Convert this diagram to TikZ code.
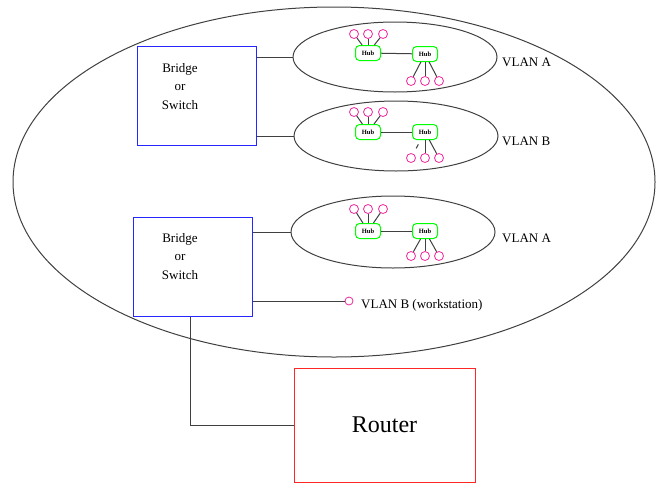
\documentclass[tikz,border=0pt]{standalone}
\usepackage{fontspec}
\setmainfont{Liberation Serif}
\usetikzlibrary{shapes.geometric,positioning}

\tikzset{
  wire/.style={draw=black!75, line width=1pt},
  bridgebox/.style={draw=blue!85, line width=1pt, minimum width=119, minimum height=99, inner sep=0},
  routerbox/.style={draw=red!85, line width=1pt, minimum width=181, minimum height=114, inner sep=0, font=\fontsize{24}{28}\selectfont},
  vlanell/.style={ellipse, draw=black!75, line width=1pt, minimum width=204, minimum height=70, inner sep=0},
  hub/.style={draw=green, line width=1pt, rounded corners=4, minimum width=25, minimum height=15, inner sep=0, font=\fontsize{6.5}{7}\selectfont\bfseries},
  host/.style={circle, draw=magenta!85, line width=0.8pt, minimum size=9, inner sep=0},
  lbl/.style={anchor=west, inner sep=0, font=\fontsize{13}{15}\selectfont},
  swlbl/.style={align=center, inner sep=0, font=\fontsize{13}{18.5}\selectfont}
}

\begin{document}
\begin{tikzpicture}[x=1pt,y=-1pt]
\useasboundingbox (0,0) rectangle (660,482);

% whole campus
\node[ellipse, draw=black!75, line width=1pt, minimum width=642, minimum height=350, inner sep=0] (lan) at (334,182) {};

% bridges
\node[bridgebox] (sw1) at (197,96) {};
\node[swlbl] (sw1txt) at (180,86.5) {Bridge\\or\\Switch};
\node[bridgebox] (sw2) at (192.5,266.5) {};
\node[swlbl] (sw2txt) at (180,256.5) {Bridge\\or\\Switch};

% router
\node[routerbox] (router) at (384.5,425) {Router};

% VLAN A (top)
\node[vlanell] (va1) at (395,57) {};
\node[hub] (va1h1) at (368,53) {Hub};
\node[hub] (va1h2) at (425,54) {Hub};
\draw[wire] (va1h1) -- (va1h2);
\foreach \dx [count=\i] in {-14,0,15} {
  \node[host] (va1t\i) at ([shift={(\dx,-19)}]va1h1) {};
  \draw[wire] (va1h1) -- (va1t\i);
}
\foreach \dx [count=\i] in {-14,0,14} {
  \node[host] (va1b\i) at ([shift={(\dx,27)}]va1h2) {};
  \draw[wire] (va1h2) -- (va1b\i);
}
\node[lbl] (va1lbl) at (502,62) {VLAN A};

% VLAN B (top)
\node[vlanell] (vb1) at (396,136) {};
\node[hub] (vb1h1) at (368,132) {Hub};
\node[hub] (vb1h2) at (425,132) {Hub};
\draw[wire] (vb1h1) -- (vb1h2);
\foreach \dx [count=\i] in {-14,0,15} {
  \node[host] (vb1t\i) at ([shift={(\dx,-20)}]vb1h1) {};
  \draw[wire] (vb1h1) -- (vb1t\i);
}
\foreach \dx [count=\i] in {-14,0,14} {
  \node[host] (vb1b\i) at ([shift={(\dx,26)}]vb1h2) {};
}
\draw[wire, shorten <=5, shorten >=6] (vb1h2) -- (vb1b1);
\draw[wire] (vb1h2) -- (vb1b2);
\draw[wire] (vb1h2) -- (vb1b3);
\node[lbl] (vb1lbl) at (502,141) {VLAN B};

% VLAN A (bottom)
\node[vlanell, minimum height=72] (va2) at (393,232) {};
\node[hub] (va2h1) at (368,231) {Hub};
\node[hub] (va2h2) at (425,231) {Hub};
\draw[wire] (va2h1) -- (va2h2);
\foreach \dx [count=\i] in {-14,0,15} {
  \node[host] (va2t\i) at ([shift={(\dx,-22)}]va2h1) {};
  \draw[wire] (va2h1) -- (va2t\i);
}
\foreach \dx [count=\i] in {-14,0,14} {
  \node[host] (va2b\i) at ([shift={(\dx,25)}]va2h2) {};
  \draw[wire] (va2h2) -- (va2b\i);
}
\node[lbl] (va2lbl) at (502,238.5) {VLAN A};

% workstation
\node[host, minimum size=8] (ws) at (349,301) {};
\node[lbl] (wslbl) at (361,305) {VLAN B (workstation)};

% links
\draw[wire] (sw1.east |- va1.west) -- (va1.west);
\draw[wire] (sw1.east |- vb1.west) -- (vb1.west);
\draw[wire] (sw2.east |- va2.west) -- (va2.west);
\draw[wire] (sw2.east |- ws.west) -- (ws.west);
\draw[wire] ([xshift=-2.5]sw2.south) |- (router.west);
\end{tikzpicture}
\end{document}
